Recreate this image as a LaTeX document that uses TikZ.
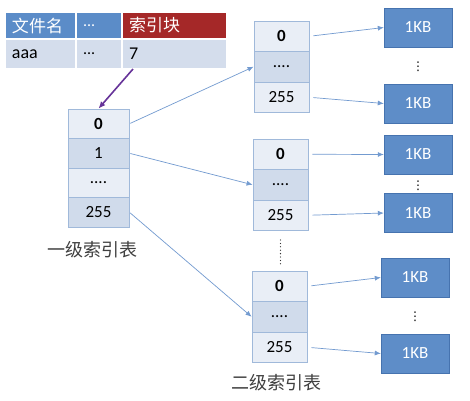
\documentclass[tikz,border=0pt]{standalone}
\usepackage{fontspec}
\setmainfont{Carlito}
\newfontfamily\cjk{Noto Sans CJK SC}
\newfontfamily\dejavu{DejaVu Sans}
\usetikzlibrary{arrows.meta}
\definecolor{hdrblue}{RGB}{91,140,200}
\definecolor{hdrred}{RGB}{165,40,40}
\definecolor{rowgray}{RGB}{212,221,236}
\definecolor{celllight}{RGB}{233,238,246}
\definecolor{celldark}{RGB}{208,219,235}
\definecolor{cellline}{RGB}{160,185,218}
\definecolor{kbfill}{RGB}{94,141,200}
\definecolor{kbline}{RGB}{70,115,175}
\definecolor{linkblue}{RGB}{115,155,208}
\definecolor{ptrpurple}{RGB}{102,51,153}

\begin{document}
\begin{tikzpicture}[x=1pt,y=-1pt,every node/.style={font=\fontsize{17}{19}\selectfont},
  hdr/.style={draw=white, line width=1.2pt, minimum height=27pt, inner xsep=7pt, align=left, text=white, font=\cjk\fontsize{17}{19}\selectfont},
  fld/.style={draw=white, line width=1.2pt, fill=rowgray, minimum height=30pt, inner xsep=7pt, align=left, font=\fontsize{18}{20}\selectfont},
  cell/.style={draw=cellline, line width=0.8pt, minimum width=61pt, minimum height=29.5pt, inner sep=0pt},
  sub/.style={draw=cellline, line width=0.8pt, minimum width=55pt, minimum height=30.5pt, inner sep=0pt},
  kb/.style={draw=kbline, fill=kbfill, text=white, minimum width=68pt, minimum height=39pt, inner sep=0pt},
  vdot/.style={inner sep=0pt, font=\dejavu\fontsize{12}{12}\selectfont},
  link/.style={-{Latex[length=6pt,width=5pt]}, linkblue, line width=0.7pt},
  lbl/.style={text=black!75, font=\cjk\fontsize{18}{20}\selectfont}]
\useasboundingbox[fill=white] (0,0) rectangle (470,400);
% file directory entry
\node[hdr, fill=hdrblue, text width=57pt] (h1) at (40.5,25.5) {文件名};
\node[hdr, fill=hdrblue, text width=32pt] (h2) at (99,25.5) {\rmfamily\fontsize{16}{18}\selectfont ...};
\node[hdr, fill=hdrred, text width=91pt] (h3) at (174.5,25.5) {索引块};
\node[fld, text width=57pt] (f1) at (40.5,54) {aaa};
\node[fld, text width=32pt] (f2) at (99,54) {\fontsize{16}{18}\selectfont ...};
\node[fld, text width=91pt] (f3) at (174.5,54) {7};
\coordinate (p7) at (133,69);
% first level index table
\node[cell, fill=celllight] (r0) at (98.5,123.75) {\textbf{0}};
\node[cell, fill=celldark] (r1) at (98.5,153.25) {1};
\node[cell, fill=celllight] (r2) at (98.5,182.75) {....};
\node[cell, fill=celldark] (r3) at (98.5,212.25) {255};
\node[lbl] (lbl1) at (92,250) {一级索引表};
% second level index tables
\node[sub, fill=celllight] (a0) at (281.5,36.25) {\textbf{0}};
\node[sub, fill=celldark] (a1) at (281.5,66.75) {....};
\node[sub, fill=celllight] (a2) at (281.5,97.25) {255};
\node[sub, fill=celllight] (b0) at (280.5,154.25) {\textbf{0}};
\node[sub, fill=celldark] (b1) at (280.5,184.75) {....};
\node[sub, fill=celllight] (b2) at (280.5,215.25) {255};
\node[sub, fill=celllight] (c0) at (279.5,286.25) {\textbf{0}};
\node[sub, fill=celldark] (c1) at (279.5,316.75) {....};
\node[sub, fill=celllight] (c2) at (279.5,347.25) {255};
\node[lbl] (lbl2) at (276,383) {二级索引表};
\coordinate (gap1) at (280.5,240);
\coordinate (gap2) at (280.5,264);
\draw[black!80, line width=1.3pt, line cap=round, dash pattern=on 0pt off 3.4pt] (gap1) -- (gap2);
% data blocks
\node[kb] (ka1) at (418,27.5) {1KB};
\node[kb] (ka2) at (418,103.5) {1KB};
\node[kb] (kb1) at (418,154.5) {1KB};
\node[kb] (kb2) at (418,213) {1KB};
\node[kb] (kc1) at (415,277.5) {1KB};
\node[kb] (kc2) at (415,353.5) {1KB};
\node[vdot] (d1) at (418,67) {⋮};
\node[vdot] (d2) at (418,186) {⋮};
\node[vdot] (d3) at (415,317) {⋮};
% pointers
\draw[-{Latex[length=7pt,width=6pt]}, ptrpurple, line width=1.6pt] (p7) -- (r0.north);
\draw[link, shorten <=1pt] (r0.east) -- (a1.west);
\draw[link, shorten <=1pt] (r1.east) -- (b1.west);
\draw[link, shorten <=1pt] (r3.east) -- (c1.west);
\draw[link, shorten <=4pt] (a0.east) -- (ka1.west);
\draw[link, shorten <=4pt] (a2.east) -- (ka2.west);
\draw[link, shorten <=4pt] (b0.east) -- (kb1.west);
\draw[link, shorten <=4pt] (b2.east) -- (kb2.west);
\draw[link, shorten <=4pt] (c0.east) -- (kc1.west);
\draw[link, shorten <=4pt] (c2.east) -- (kc2.west);
\end{tikzpicture}
\end{document}
